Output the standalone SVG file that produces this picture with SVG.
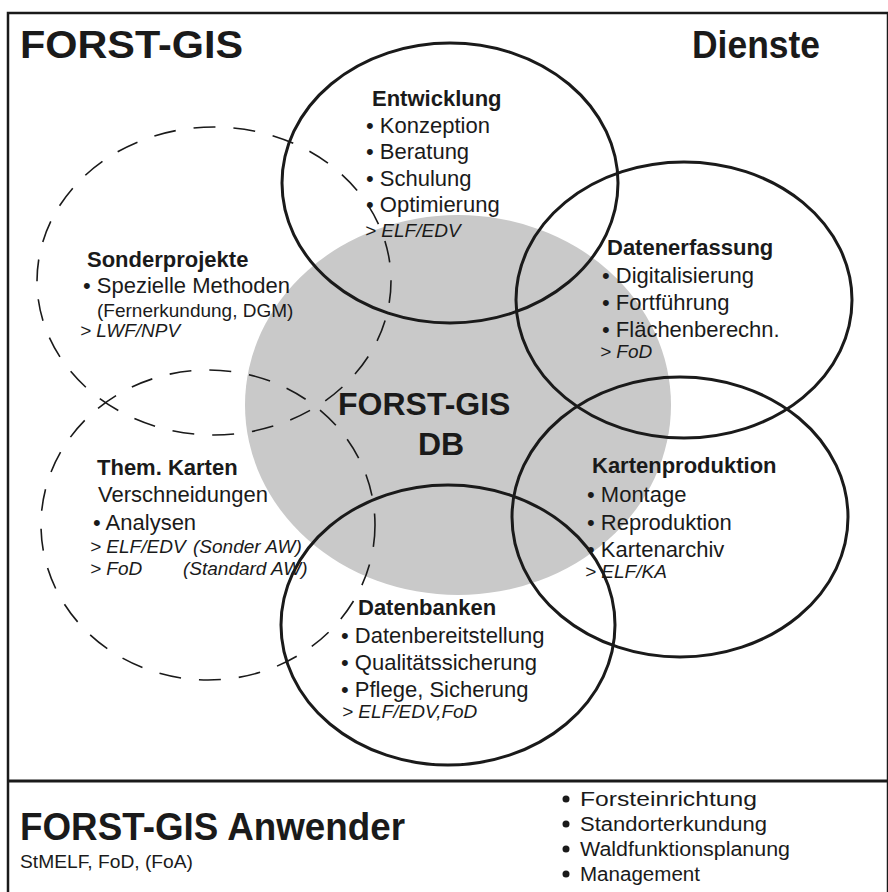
<svg xmlns="http://www.w3.org/2000/svg" width="888" height="892" viewBox="0 0 888 892">
<style>
.bg{fill:#ffffff}
.frame{fill:none;stroke:#1a1a1a;stroke-width:2.5}
.solid{fill:none;stroke:#1a1a1a;stroke-width:3}
.dash{fill:none;stroke:#1a1a1a;stroke-width:1.6;stroke-dasharray:22 18}
.gray{fill:#c9c9c9}
text{fill:#1a1a1a;font-family:"Liberation Sans",Arial,Helvetica,sans-serif}
.t{font-size:22px;font-weight:bold}
.i{font-size:22px}
.s{font-size:19px}
.r{font-size:19px;font-style:italic}
.big{font-family:"Liberation Sans Narrow","Liberation Sans",Arial,sans-serif;font-size:38px;font-weight:bold}
.nar{font-family:"Liberation Sans Narrow","Liberation Sans",Arial,sans-serif;font-size:20px}
.db{font-size:32px;font-weight:bold}
</style>
<rect class="bg" x="0" y="0" width="888" height="892"/>
<g id="frame">
<rect class="frame" x="8" y="13" width="880" height="890"/>
<line x1="8" y1="781" x2="888" y2="781" stroke="#1a1a1a" stroke-width="3"/>
</g>
<g id="titles">
<text class="big" x="20" y="58" textLength="223" lengthAdjust="spacingAndGlyphs">FORST-GIS</text>
<text class="big" x="692" y="58" textLength="128" lengthAdjust="spacingAndGlyphs">Dienste</text>
</g>
<g id="db">
<ellipse class="gray" cx="458" cy="405" rx="213" ry="190"/>
<text class="db" x="338" y="415">FORST-GIS</text>
<text class="db" x="418" y="455">DB</text>
</g>
<g id="sonderprojekte">
<ellipse class="dash" cx="214" cy="281" rx="177" ry="154"/>
<text class="t" x="87" y="267">Sonderprojekte</text>
<text class="i" x="83" y="293">• Spezielle Methoden</text>
<text class="s" x="97" y="317">(Fernerkundung, DGM)</text>
<text class="r" x="80" y="337">&gt; LWF/NPV</text>
</g>
<g id="themkarten">
<ellipse class="dash" cx="208" cy="525" rx="167" ry="155"/>
<text class="t" x="97" y="475">Them. Karten</text>
<text class="i" x="98" y="502">Verschneidungen</text>
<text class="i" x="93" y="530">• Analysen</text>
<text class="r" x="90" y="553">&gt; ELF/EDV</text>
<text class="r" x="193" y="553">(Sonder AW)</text>
<text class="r" x="90" y="575">&gt; FoD</text>
<text class="r" x="183" y="575">(Standard AW)</text>
</g>
<g id="entwicklung">
<ellipse class="solid" cx="450" cy="183" rx="168" ry="140"/>
<text class="t" x="372" y="106">Entwicklung</text>
<text class="i" x="366" y="133">• Konzeption</text>
<text class="i" x="366" y="159">• Beratung</text>
<text class="i" x="366" y="186">• Schulung</text>
<text class="i" x="366" y="212">• Optimierung</text>
<text class="r" x="365" y="237">&gt; ELF/EDV</text>
</g>
<g id="datenerfassung">
<ellipse class="solid" cx="684" cy="300" rx="168" ry="138"/>
<text class="t" x="607" y="255">Datenerfassung</text>
<text class="i" x="602" y="283">• Digitalisierung</text>
<text class="i" x="602" y="310">• Fortführung</text>
<text class="i" x="602" y="337">• Flächenberechn.</text>
<text class="r" x="600" y="358">&gt; FoD</text>
</g>
<g id="kartenproduktion">
<ellipse class="solid" cx="680" cy="517" rx="168" ry="140"/>
<text class="t" x="592" y="473">Kartenproduktion</text>
<text class="i" x="587" y="502">• Montage</text>
<text class="i" x="587" y="530">• Reproduktion</text>
<text class="i" x="587" y="557">• Kartenarchiv</text>
<text class="r" x="585" y="578">&gt; ELF/KA</text>
</g>
<g id="datenbanken">
<ellipse class="solid" cx="448" cy="625" rx="167" ry="140"/>
<text class="t" x="358" y="615">Datenbanken</text>
<text class="i" x="341" y="643">• Datenbereitstellung</text>
<text class="i" x="341" y="670">• Qualitätssicherung</text>
<text class="i" x="341" y="697">• Pflege, Sicherung</text>
<text class="r" x="342" y="718">&gt; ELF/EDV,FoD</text>
</g>
<g id="anwender">
<text class="big" x="20" y="840" textLength="385" lengthAdjust="spacingAndGlyphs">FORST-GIS Anwender</text>
<text class="nar" x="20" y="868" style="font-size:18px" textLength="173" lengthAdjust="spacingAndGlyphs">StMELF, FoD, (FoA)</text>
<circle cx="566" cy="799" r="3.5" fill="#1a1a1a"/>
<text class="nar" x="580" y="806" textLength="177" lengthAdjust="spacingAndGlyphs">Forsteinrichtung</text>
<circle cx="566" cy="824" r="3.5" fill="#1a1a1a"/>
<text class="nar" x="580" y="831" textLength="187" lengthAdjust="spacingAndGlyphs">Standorterkundung</text>
<circle cx="566" cy="849" r="3.5" fill="#1a1a1a"/>
<text class="nar" x="580" y="856" textLength="210" lengthAdjust="spacingAndGlyphs">Waldfunktionsplanung</text>
<circle cx="566" cy="874" r="3.5" fill="#1a1a1a"/>
<text class="nar" x="580" y="881" textLength="120" lengthAdjust="spacingAndGlyphs">Management</text>
</g>
</svg>
